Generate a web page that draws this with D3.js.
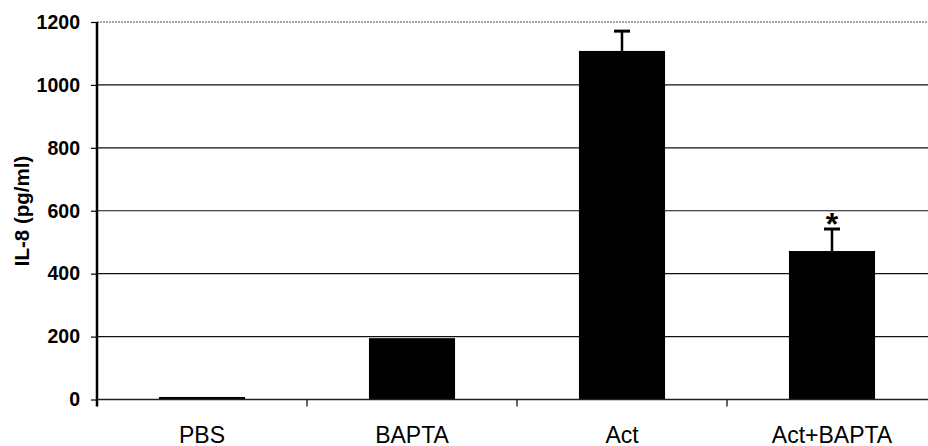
<!DOCTYPE html>
<html>
<head>
<meta charset="utf-8">
<script src="https://cdn.jsdelivr.net/npm/d3@7/dist/d3.min.js"></script>
<style>
  html, body { margin: 0; padding: 0; background: #fff; }
  svg { display: block; }
  text { font-family: Arial, "Liberation Sans", sans-serif; }
</style>
</head>
<body>
<svg id="chart" width="928" height="446"></svg>
<script>
const categories = ["PBS", "BAPTA", "Act", "Act+BAPTA"];
const values = [8, 195, 1108, 472];
const errors = [0, 0, 63, 70];
const significant = [false, false, false, true];
const yTicks = [0, 200, 400, 600, 800, 1000, 1200];
const yLabel = "IL-8 (pg/ml)";

const svg = d3.select("#chart");
const margin = { left: 97, top: 22, bottom: 46.5 };
const plotW = 840;
const plotH = 446 - margin.top - margin.bottom;

const x = d3.scaleBand().domain(categories).range([margin.left, margin.left + plotW])
  .paddingInner(0.59).paddingOuter(0.295);
const xOuter = d3.scaleBand().domain(categories).range([margin.left, margin.left + plotW]).padding(0);
const y = d3.scaleLinear().domain([0, 1200]).range([margin.top + plotH, margin.top]);

// gridlines
svg.append("g").selectAll("line").data(yTicks.filter(t => t > 0)).join("line")
  .attr("x1", margin.left).attr("x2", margin.left + plotW)
  .attr("y1", d => y(d)).attr("y2", d => y(d))
  .attr("stroke", d => d === 1200 ? "#888" : "#111")
  .attr("stroke-width", d => d === 1200 ? 1.5 : 1.2)
  .attr("stroke-dasharray", d => d === 1200 ? "2,1" : null);

// bars
svg.append("g").selectAll("rect").data(categories).join("rect")
  .attr("x", d => x(d)).attr("width", x.bandwidth())
  .attr("y", (d, i) => y(values[i])).attr("height", (d, i) => y(0) - y(values[i]))
  .attr("fill", "#000");

// error bars (upper only)
const eg = svg.append("g");
categories.forEach((c, i) => {
  if (!errors[i]) return;
  const cx = x(c) + x.bandwidth() / 2;
  eg.append("line").attr("x1", cx).attr("x2", cx)
    .attr("y1", y(values[i])).attr("y2", y(values[i] + errors[i]))
    .attr("stroke", "#000").attr("stroke-width", 2.5);
  eg.append("line").attr("x1", cx - 8).attr("x2", cx + 8)
    .attr("y1", y(values[i] + errors[i])).attr("y2", y(values[i] + errors[i]))
    .attr("stroke", "#000").attr("stroke-width", 3);
  if (significant[i]) {
    eg.append("text").attr("x", cx).attr("y", y(values[i] + errors[i]) + 6.5)
      .attr("text-anchor", "middle").attr("font-size", 32).attr("font-weight", "bold")
      .attr("fill", "#000").text("*");
  }
});

// y axis
const yAxis = d3.axisLeft(y).tickValues(yTicks).tickSize(6).tickPadding(11).tickFormat(d3.format("d"));
const ya = svg.append("g").attr("transform", `translate(${margin.left},0)`).call(yAxis);
ya.select(".domain").attr("stroke", "#000").attr("stroke-width", 2.5)
  .attr("d", `M0,${y(1200)}V${y(0) + 7}`);
ya.selectAll(".tick line").attr("stroke", "#000").attr("stroke-width", 1.2);
ya.selectAll(".tick text").attr("font-size", 19.5).attr("font-weight", "bold").attr("fill", "#000")
  .attr("font-family", 'Arial, "Liberation Sans", sans-serif');

// x axis
const xa = svg.append("g").attr("transform", `translate(0,${y(0)})`);
xa.append("line").attr("x1", margin.left).attr("x2", margin.left + plotW)
  .attr("y1", 0).attr("y2", 0).attr("stroke", "#222").attr("stroke-width", 1.5);
xa.selectAll("line.tk").data(categories.slice(1)).join("line").attr("class", "tk")
  .attr("x1", d => xOuter(d)).attr("x2", d => xOuter(d))
  .attr("y1", 0).attr("y2", 7).attr("stroke", "#000").attr("stroke-width", 1.2);
xa.selectAll("text").data(categories).join("text")
  .attr("x", d => xOuter(d) + xOuter.bandwidth() / 2).attr("y", 43)
  .attr("text-anchor", "middle").attr("font-size", 23).attr("fill", "#000").text(d => d);

// y label
svg.append("text").attr("transform", "translate(29,211) rotate(-90)")
  .attr("text-anchor", "middle").attr("font-size", 20.5).attr("font-weight", "bold")
  .attr("fill", "#000").text(yLabel);
</script>
</body>
</html>
